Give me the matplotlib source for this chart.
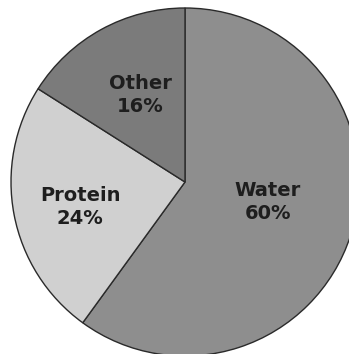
import matplotlib
matplotlib.use("Agg")
import matplotlib.pyplot as plt

# --- Data ---
labels = ["Water", "Protein", "Other"]
shares = [60, 24, 16]
colors = ["#8e8e8e", "#d0d0d0", "#7b7b7b"]
label_pos = [(268, 202), (80, 207), (140, 95)]  # pixel positions (x, y from top)

W, H = 349, 354
fig = plt.figure(figsize=(W / 100, H / 100), dpi=100)
ax = fig.add_axes([0, 0, 1, 1])

cx, cy, r = 185, H - 182, 174
ax.pie(shares, colors=colors, startangle=90, counterclock=False,
       center=(cx, cy), radius=r,
       wedgeprops=dict(edgecolor="#2a2a2a", linewidth=1.0))

for lab, val, (x, y) in zip(labels, shares, label_pos):
    ax.text(x, H - y, f"{lab}\n{val}%", ha="center", va="center",
            fontsize=14, fontweight="bold", color="#1e1e1e",
            family="DejaVu Sans", linespacing=1.3)

ax.set_xlim(0, W)
ax.set_ylim(0, H)
ax.set_aspect("equal")
ax.axis("off")

fig.savefig("out.png", dpi=100, facecolor="white")
